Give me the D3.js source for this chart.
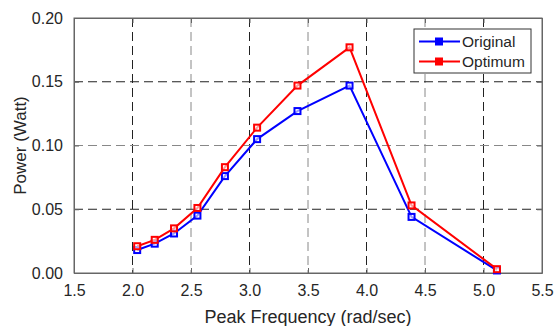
<!DOCTYPE html>
<meta charset="utf-8">
<script src="https://d3js.org/d3.v7.min.js"></script>
<style>
  body { margin: 0; background: #fff; }
  text { font-family: "Liberation Sans", Arial, sans-serif; fill: #262626; }
</style>
<div id="chart"></div>
<script>

// data
const freq     = [2.04, 2.19, 2.355, 2.555, 2.79, 3.065, 3.41, 3.855, 4.385, 5.115];
const original = [0.018, 0.023, 0.031, 0.045, 0.076, 0.105, 0.127, 0.147, 0.044, 0.002];
const optimum  = [0.021, 0.026, 0.035, 0.051, 0.083, 0.114, 0.147, 0.177, 0.053, 0.003];
const xTicks = [1.5, 2.0, 2.5, 3.0, 3.5, 4.0, 4.5, 5.0, 5.5];
const yTicks = [0, 0.05, 0.10, 0.15, 0.20];

const series = [
  {name: "Original", values: original, color: "#0000ff"},
  {name: "Optimum",  values: optimum,  color: "#ff0000"}
];

const W = 554, H = 326;
const margin = {top: 18, right: 12, bottom: 53, left: 74},
    width = W - margin.left - margin.right,
    height = H - margin.top - margin.bottom;

const svg = d3.select("#chart")
  .append("svg")
    .attr("width", W)
    .attr("height", H)
  .append("g")
    .attr("transform", `translate(${margin.left},${margin.top})`);

const x = d3.scaleLinear().domain([1.5, 5.5]).range([0, width]);
const y = d3.scaleLinear().domain([0, 0.2]).range([height, 0]);

// dashed grid, alternating dark / light like the original
svg.append("g")
  .selectAll("line")
  .data(xTicks.slice(1, -1))
  .join("line")
    .attr("x1", d => x(d)).attr("x2", d => x(d))
    .attr("y1", 0).attr("y2", height)
    .attr("stroke", (d, i) => i % 2 ? "#888" : "#222")
    .attr("stroke-width", 1)
    .attr("stroke-dasharray", "9,5");

svg.append("g")
  .selectAll("line")
  .data(yTicks.slice(1, -1))
  .join("line")
    .attr("x1", 0).attr("x2", width)
    .attr("y1", d => y(d)).attr("y2", d => y(d))
    .attr("stroke", (d, i) => i % 2 ? "#888" : "#222")
    .attr("stroke-width", 1)
    .attr("stroke-dasharray", "9,5");

// axes with inward ticks
svg.append("g")
  .attr("transform", `translate(0,${height})`)
  .call(d3.axisBottom(x).tickValues(xTicks).tickFormat(d3.format(".1f"))
    .tickSizeInner(-5).tickSizeOuter(0).tickPadding(12));
svg.append("g")
  .call(d3.axisLeft(y).tickValues(yTicks).tickFormat(d3.format(".2f"))
    .tickSizeInner(-5).tickSizeOuter(0).tickPadding(11));
svg.append("g")
  .call(d3.axisTop(x).tickValues(xTicks).tickFormat("").tickSizeInner(-5).tickSizeOuter(0));
svg.append("g")
  .attr("transform", `translate(${width},0)`)
  .call(d3.axisRight(y).tickValues(yTicks).tickFormat("").tickSizeInner(-5).tickSizeOuter(0));

svg.selectAll(".domain").attr("stroke", "#666");
svg.selectAll(".tick line").attr("stroke", "#666");
svg.selectAll(".tick text").style("font-size", "16px").attr("fill", "#262626");

// box
svg.append("rect")
  .attr("width", width).attr("height", height)
  .attr("fill", "none").attr("stroke", "#666").attr("stroke-width", 1);

// axis titles
svg.append("text")
  .attr("x", width / 2).attr("y", height + 50)
  .attr("text-anchor", "middle")
  .style("font-size", "18px")
  .text("Peak Frequency (rad/sec)");
svg.append("text")
  .attr("transform", `translate(${-48},${height / 2}) rotate(-90)`)
  .attr("text-anchor", "middle")
  .style("font-size", "17px")
  .text("Power (Watt)");

// lines and markers
const line = d3.line().x((d, i) => x(freq[i])).y(d => y(d));

series.forEach(s => {
  svg.append("path")
    .datum(s.values)
    .attr("d", line)
    .attr("fill", "none")
    .attr("stroke", s.color)
    .attr("stroke-width", 2);
  svg.append("g")
    .selectAll("rect")
    .data(s.values)
    .join("rect")
      .attr("x", (d, i) => x(freq[i]) - 3)
      .attr("y", d => y(d) - 3)
      .attr("width", 6).attr("height", 6)
      .attr("fill", "#fff")
      .attr("fill-opacity", 0.6)
      .attr("stroke", s.color)
      .attr("stroke-width", 2);
});

// legend
const lg = svg.append("g").attr("transform", `translate(${414 - margin.left},${29 - margin.top})`);
lg.append("rect")
  .attr("width", 117).attr("height", 44)
  .attr("fill", "#fff").attr("stroke", "#333").attr("stroke-width", 1);
series.forEach((s, i) => {
  const yy = 12.5 + i * 20;
  lg.append("line")
    .attr("x1", 5).attr("x2", 46).attr("y1", yy).attr("y2", yy)
    .attr("stroke", s.color).attr("stroke-width", 2);
  lg.append("rect")
    .attr("x", 21.5).attr("y", yy - 3.5).attr("width", 7).attr("height", 7)
    .attr("fill", s.color).attr("stroke", s.color);
  lg.append("text")
    .attr("x", 48).attr("y", yy + 5.5)
    .style("font-size", "15.5px")
    .text(s.name);
});

</script>
